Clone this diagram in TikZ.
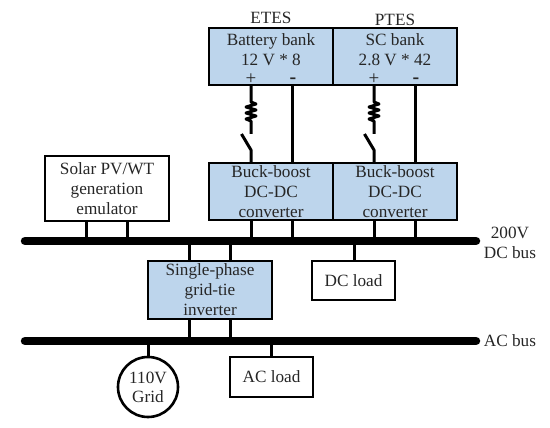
\documentclass[tikz,border=0pt]{standalone}
\usepackage{fontspec}
\setmainfont{Liberation Serif}
\definecolor{blue1}{HTML}{BDD5EC}
\tikzset{
  every node/.style={font=\fontsize{17.2}{20}\selectfont, inner sep=0pt, align=center, text=black!85},
  boxw/.style={draw=black, line width=2.5pt, fill=white, anchor=north west, outer sep=0pt},
  boxb/.style={boxw, fill=blue1},
  wire/.style={draw=black, line width=3pt, line join=round},
  bus/.style={draw=black, line width=8.5pt, line cap=round},
  signp/.style={font=\fontsize{19}{19}\selectfont, text height=9pt, text depth=0pt},
  signm/.style={font=\bfseries\fontsize{20}{20}\selectfont, text height=6pt, text depth=0pt},
}
\begin{document}
\begin{tikzpicture}[x=1pt,y=-1pt]
\useasboundingbox (0,0) rectangle (550,428);
% buses
\coordinate (dcA) at (25,241); \coordinate (dcB) at (476,241);
\coordinate (acA) at (25,341); \coordinate (acB) at (476,341);
% boxes
\node[boxb, minimum width=124pt, minimum height=57pt] (bat) at (209,28) {};
\node[boxb, minimum width=124pt, minimum height=57pt] (sc) at (333,28) {};
\node[boxb, minimum width=124pt, minimum height=57pt] (cv1) at (209,163) {};
\node[boxb, minimum width=124pt, minimum height=57pt] (cv2) at (333,163) {};
\node[boxw, minimum width=124pt, minimum height=65pt] (pv) at (45,156) {};
\node[boxb, minimum width=124pt, minimum height=58pt] (inv) at (148,261) {};
\node[boxw, minimum width=83pt, minimum height=39pt] (dcl) at (312,261) {DC load};
\node[boxw, minimum width=83pt, minimum height=40pt] (acl) at (230,357) {AC load};
\node[draw=black, line width=2.6pt, circle, minimum size=60pt, fill=white, outer sep=0pt] (grid) at (148,387) {110V\\[-1pt]Grid};
% texts inside boxes
\node (batT) at (271,49.5) {Battery bank\\12 V * 8};
\node (scT) at (395,49.5) {SC bank\\2.8 V * 42};
\node[signp] (batP) at (251,80) {+};
\node[signm] (batM) at (293,81) {-};
\node[signp] (scP) at (374,80) {+};
\node[signm] (scM) at (416,81) {-};
\node (cv1T) at (271,192) {Buck-boost\\DC-DC\\converter};
\node (cv2T) at (395,192) {Buck-boost\\DC-DC\\converter};
\node (pvT) at (107,189) {Solar PV/WT\\generation\\emulator};
\node (invT) at (210,290) {Single-phase\\grid-tie\\inverter};
% outside labels
\node (etes) at (271,18) {ETES};
\node (ptes) at (395,20) {PTES};
\node (dcT) at (510,243) {200V\\DC bus};
\node (acT) at (510,341) {AC bus};
% bus bars
\draw[bus] (dcA) -- (dcB);
\draw[bus] (acA) -- (acB);
% battery minus leads
\draw[wire] (292,0 |- bat.south) -- (292,0 |- cv1.north);
\draw[wire] (415,0 |- sc.south) -- (415,0 |- cv2.north);
% switched + leads with resistor
\foreach \xx/\top/\bot in {251/bat/cv1, 374/sc/cv2}{
  \draw[wire] (\xx,0 |- \top.south) -- (\xx,102) -- ++(5,2) -- ++(-10,3) -- ++(10,3) -- ++(-10,3) -- ++(10,3) -- ++(-10,3) -- ++(5,2) -- (\xx,134);
  \draw[wire] (\xx-9.5,134) -- (\xx,150) -- (\xx,0 |- \bot.north);
}
% leads to DC bus
\foreach \xx/\b in {251/cv1, 292/cv1, 374/cv2, 415/cv2, 86/pv, 127/pv}{
  \draw[wire] (\xx,0 |- \b.south) -- (\xx,0 |- dcA);
}
\foreach \xx in {189,230}{
  \draw[wire] (\xx,0 |- dcA) -- (\xx,0 |- inv.north);
  \draw[wire] (\xx,0 |- inv.south) -- (\xx,0 |- acA);
}
\draw[wire] (354,0 |- dcA) -- (354,0 |- dcl.north);
\draw[wire] (148,0 |- acA) -- (grid.north);
\draw[wire] (271,0 |- acA) -- (271,0 |- acl.north);
\end{tikzpicture}
\end{document}
